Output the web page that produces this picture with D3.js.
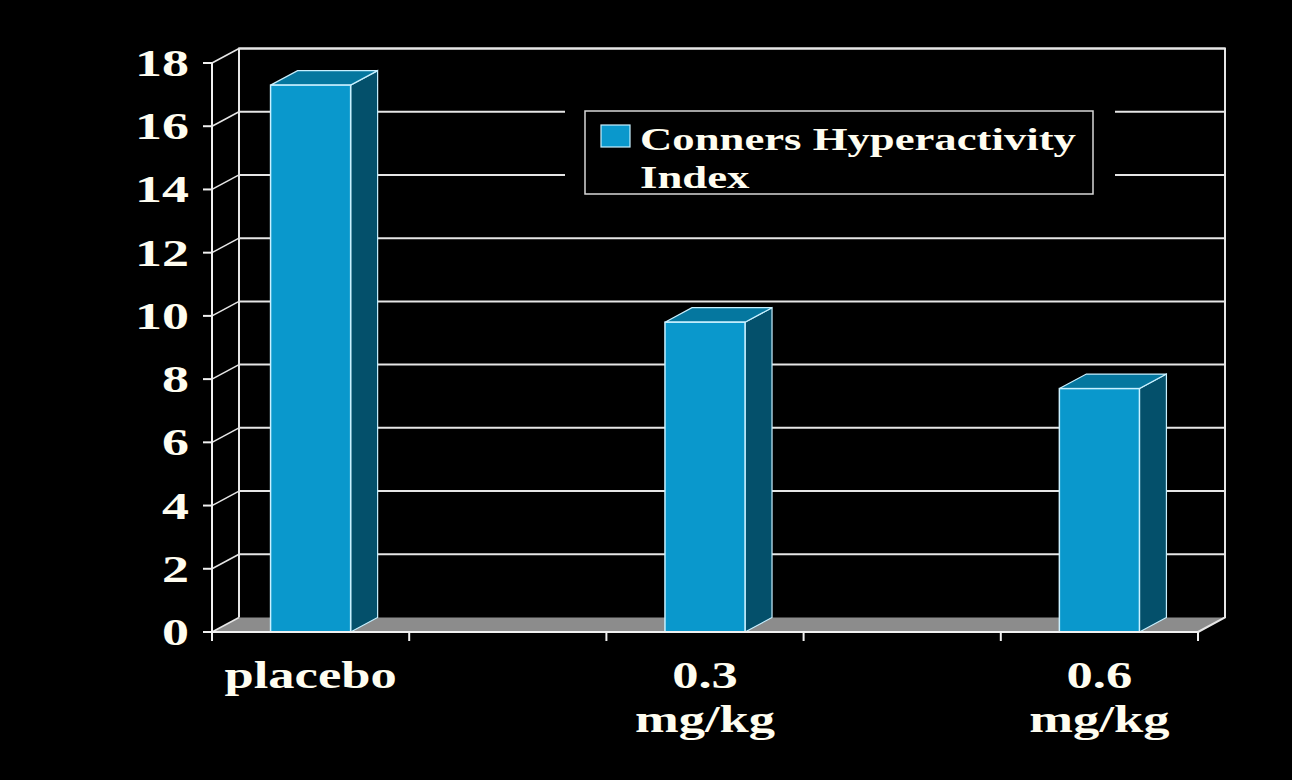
<!DOCTYPE html>
<html>
<head>
<meta charset="utf-8">
<script src="https://cdn.jsdelivr.net/npm/d3@7"></script>
<style>
  html, body { margin: 0; padding: 0; background: #000; }
  svg { display: block; }
  text { font-family: "Liberation Serif", "Times New Roman", serif; font-weight: bold; fill: #fffdf0; }
</style>
</head>
<body>
<svg id="chart"></svg>
<script>
// Chart data
const categories = ['placebo', 'gap1', '0.3 mg/kg', 'gap2', '0.6 mg/kg'];
const categoryLabels = [['placebo'], [], ['0.3', 'mg/kg'], [], ['0.6', 'mg/kg']];
const connersIndex = [17.3, null, 9.8, null, 7.7];
const yTicks = [0, 2, 4, 6, 8, 10, 12, 14, 16, 18];
const seriesName = ['Conners Hyperactivity', 'Index'];

const W = 1292, H = 780;
const plot = { left: 212, right: 1198, top: 63, bottom: 632 };
const depth = { dx: 27, dy: -14.5 };
const stretch = 1.42; // the slide is drawn wide, text is stretched horizontally

const svg = d3.select('#chart').attr('width', W).attr('height', H);
svg.append('rect').attr('width', W).attr('height', H).attr('fill', '#000');

const x = d3.scaleBand()
  .domain(categories)
  .range([plot.left, plot.right])
  .paddingInner(0.594)
  .paddingOuter(0.297);

const y = d3.scaleLinear()
  .domain([0, 18])
  .range([plot.bottom, plot.top]);

// helper for stretched text
function label(g, tx, ty, str, size, anchor) {
  return g.append('text')
    .attr('transform', `translate(${tx},${ty}) scale(${stretch},1)`)
    .attr('text-anchor', anchor)
    .attr('font-size', size)
    .text(str);
}

const grid = svg.append('g');
const bx0 = plot.left + depth.dx, bx1 = plot.right + depth.dx;

// floor
grid.append('path')
  .attr('d', `M${plot.left},${y(0)} L${plot.right},${y(0)} L${bx1},${y(0) + depth.dy} L${bx0},${y(0) + depth.dy} Z`)
  .attr('fill', '#8c8c8c');

// back wall gridlines + left wall diagonals
yTicks.forEach(t => {
  if (t > 0) {
    grid.append('line')
      .attr('x1', bx0).attr('x2', bx1)
      .attr('y1', y(t) + depth.dy).attr('y2', y(t) + depth.dy)
      .attr('stroke', '#e6e6e6').attr('stroke-width', 2);
  }
  grid.append('line')
    .attr('x1', plot.left).attr('x2', bx0)
    .attr('y1', y(t)).attr('y2', y(t) + depth.dy)
    .attr('stroke', '#e6e6e6').attr('stroke-width', 1.5);
});

// back wall edges
grid.append('path')
  .attr('d', `M${bx0},${y(0) + depth.dy} L${bx0},${y(18) + depth.dy} L${bx1},${y(18) + depth.dy} L${bx1},${y(0) + depth.dy} L${plot.right},${y(0)}`)
  .attr('fill', 'none').attr('stroke', '#e6e6e6').attr('stroke-width', 2);

// legend (sits on the back wall, hides gridlines behind it)
const legend = svg.append('g');
legend.append('rect')
  .attr('x', 565).attr('y', 100).attr('width', 550).attr('height', 105)
  .attr('fill', '#000');
legend.append('rect')
  .attr('x', 585).attr('y', 111).attr('width', 508).attr('height', 83)
  .attr('fill', '#000').attr('stroke', '#d8d8d8').attr('stroke-width', 1.5);
legend.append('rect')
  .attr('x', 601).attr('y', 125).attr('width', 29).attr('height', 22)
  .attr('fill', '#0a98cc').attr('stroke', '#c8f0ff').attr('stroke-width', 1.2);
seriesName.forEach((s, i) => label(legend, 640, 150 + i * 38, s, 31.5, 'start'));

// bars
const bars = svg.append('g');
const bw = x.bandwidth();
categories.forEach((c, i) => {
  const v = connersIndex[i];
  if (v === null) return;
  const x0 = x(c), x1 = x0 + bw, yt = y(v), yb = y(0);
  // right side
  bars.append('path')
    .attr('d', `M${x1},${yb} L${x1 + depth.dx},${yb + depth.dy} L${x1 + depth.dx},${yt + depth.dy} L${x1},${yt} Z`)
    .attr('fill', '#04506b').attr('stroke', '#c8f0ff').attr('stroke-width', 1.2);
  // top
  bars.append('path')
    .attr('d', `M${x0},${yt} L${x0 + depth.dx},${yt + depth.dy} L${x1 + depth.dx},${yt + depth.dy} L${x1},${yt} Z`)
    .attr('fill', '#05779f').attr('stroke', '#c8f0ff').attr('stroke-width', 1.2);
  // front
  bars.append('rect')
    .attr('x', x0).attr('y', yt).attr('width', bw).attr('height', yb - yt)
    .attr('fill', '#0a98cc').attr('stroke', '#c8f0ff').attr('stroke-width', 1.5);
});

// front axes
const axes = svg.append('g');
axes.append('line')
  .attr('x1', plot.left).attr('x2', plot.left)
  .attr('y1', y(18)).attr('y2', y(0) + 9)
  .attr('stroke', '#f0f0f0').attr('stroke-width', 2);
axes.append('line')
  .attr('x1', plot.left).attr('x2', plot.right)
  .attr('y1', y(0)).attr('y2', y(0))
  .attr('stroke', '#f0f0f0').attr('stroke-width', 2);

// y ticks and labels
yTicks.forEach(t => {
  axes.append('line')
    .attr('x1', plot.left - 9).attr('x2', plot.left)
    .attr('y1', y(t)).attr('y2', y(t))
    .attr('stroke', '#f0f0f0').attr('stroke-width', 2);
  label(axes, 189, y(t) + 13, t, 38, 'end');
});

// category boundary ticks
d3.range(categories.length + 1).forEach(i => {
  const tx = plot.left + i * x.step();
  axes.append('line')
    .attr('x1', tx).attr('x2', tx)
    .attr('y1', y(0)).attr('y2', y(0) + 9)
    .attr('stroke', '#f0f0f0').attr('stroke-width', 2);
});

// category labels
categories.forEach((c, i) => {
  categoryLabels[i].forEach((line, k) => {
    label(axes, x(c) + bw / 2, 688 + k * 44, line, 37, 'middle');
  });
});
</script>
</body>
</html>
